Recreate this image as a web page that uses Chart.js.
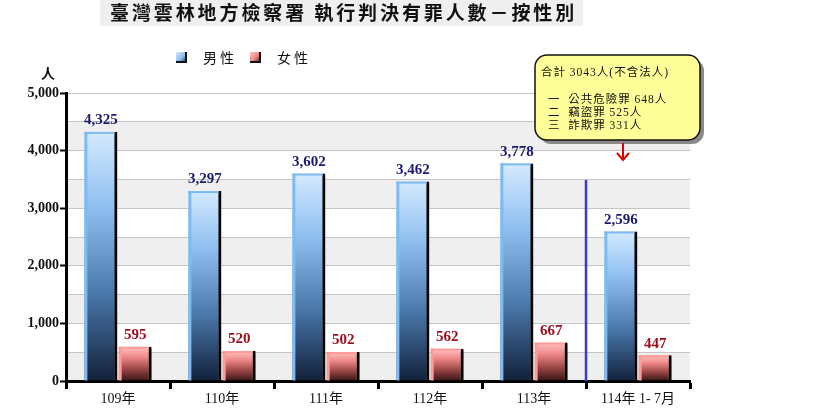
<!DOCTYPE html>
<html><head><meta charset="utf-8">
<script src="https://cdn.jsdelivr.net/npm/chart.js@4"></script>
<style>html,body{margin:0;padding:0;background:#fff;}#c{display:block;}</style>
</head><body>
<canvas id="c" width="822" height="411"></canvas>
<script>
const categories = ['109年', '110年', '111年', '112年', '113年', '114年 1- 7月'];
const maleValues = [4325, 3297, 3602, 3462, 3778, 2596];
const femaleValues = [595, 520, 502, 562, 667, 447];
const seriesNames = ['男性', '女性'];
const titleText = '臺灣雲林地方檢察署 執行判決有罪人數－按性別';
const unitText = '人';
const noteLines = ['合計 3043人(不含法人)', '', '一  公共危險罪 648人', '二  竊盜罪 525人', '三  詐欺罪 331人'];
const dividerTop = 3490;

const SERIF = '"Liberation Serif", "Noto Sans CJK TC", serif';
const CJK = '"Noto Sans CJK TC", "Liberation Serif", sans-serif';

const styles = [
  {stops: ['#d4eaff', '#8fbff0', '#4a78ab', '#12203a'], edge: '#7fbaf2', label: '#1a1a6e'},
  {stops: ['#ffc4c4', '#f08888', '#9a4646', '#351515'], edge: '#ff9a9a', label: '#9c1020'}
];

function barGradient(di) {
  return function(ctx) {
    const chart = ctx.chart;
    const area = chart.chartArea;
    if (!area) return styles[di].stops[1];
    const y = chart.scales.y;
    const v = ctx.raw || 0;
    const top = y.getPixelForValue(v);
    const bottom = y.getPixelForValue(0);
    const g = chart.ctx.createLinearGradient(0, top, 0, bottom);
    const s = styles[di].stops;
    g.addColorStop(0, s[0]);
    g.addColorStop(0.3, s[1]);
    g.addColorStop(0.65, s[2]);
    g.addColorStop(1, s[3]);
    return g;
  };
}

function spacing(c, v) { try { c.letterSpacing = v; } catch(e) {} }

const decor = {
  id: 'decor',
  beforeDraw(chart) {
    const c = chart.ctx, a = chart.chartArea, y = chart.scales.y;
    c.save();
    c.fillStyle = '#efefef';
    c.fillRect(100, 0, 483, 26);
    c.fillStyle = '#111';
    c.font = 'bold 19px ' + CJK;
    c.textBaseline = 'middle';
    c.textAlign = 'left';
    spacing(c, '2.9px');
    c.fillText(titleText, 110, 13);
    spacing(c, '0px');
    for (let v = 0; v < 5000; v += 1000) {
      const t = y.getPixelForValue(v + 500), b = y.getPixelForValue(v);
      c.fillStyle = '#efefef';
      c.fillRect(a.left, t, a.right - a.left, b - t);
    }
    c.restore();
  },
  beforeDatasetDraw(chart) {
    const c = chart.ctx;
    c.save();
    c.shadowColor = 'rgba(0,0,0,0.45)';
    c.shadowOffsetX = 3;
    c.shadowOffsetY = 1;
    c.shadowBlur = 3;
  },
  afterDatasetDraw(chart) {
    chart.ctx.restore();
  },
  afterDatasetsDraw(chart) {
    const c = chart.ctx, y = chart.scales.y, x = chart.scales.x;
    c.save();
    chart.data.datasets.forEach((ds, di) => {
      const meta = chart.getDatasetMeta(di);
      meta.data.forEach((el, i) => {
        const w = el.width;
        const left = el.x - w / 2;
        c.fillStyle = styles[di].edge;
        c.fillRect(left, el.y, 3, el.base - el.y);
        c.fillRect(left, el.y, w - 3, 2);
        c.fillStyle = styles[di].label;
        c.font = 'bold 15px ' + SERIF;
        c.textAlign = 'center';
        c.textBaseline = 'bottom';
        c.fillText(ds.data[i].toLocaleString('en-US'), el.x, el.y - 4);
      });
    });
    const xb = (x.getPixelForValue(4) + x.getPixelForValue(5)) / 2;
    c.strokeStyle = '#3a3acc';
    c.lineWidth = 2.5;
    c.beginPath();
    c.moveTo(xb, y.getPixelForValue(dividerTop));
    c.lineTo(xb, y.getPixelForValue(0));
    c.stroke();
    c.restore();
  },
  afterDraw(chart) {
    const c = chart.ctx;
    c.save();
    c.fillStyle = '#111';
    c.font = 'bold 14px ' + CJK;
    c.textAlign = 'center';
    c.textBaseline = 'middle';
    c.fillText(unitText, 48, 73);
    const lx = [176, 250];
    seriesNames.forEach((n, i) => {
      const bx = lx[i], by = 52;
      const g = c.createLinearGradient(bx, by, bx + 11, by + 11);
      g.addColorStop(0, styles[i].stops[0]);
      g.addColorStop(0.5, styles[i].stops[1]);
      g.addColorStop(1, styles[i].stops[3]);
      c.fillStyle = g;
      c.fillRect(bx, by, 11, 11);
      c.fillStyle = '#111';
      c.fillRect(bx + 9, by, 2, 11);
      c.fillRect(bx, by + 9, 11, 2);
      c.font = '14px ' + CJK;
      c.textAlign = 'left';
      spacing(c, '3px');
      c.fillText(n, bx + 27, by + 6);
      spacing(c, '0px');
    });
    const bx = 535, by = 55, bw = 165, bh = 85, r = 12;
    function rr(x0, y0) {
      c.beginPath();
      c.moveTo(x0 + r, y0);
      c.arcTo(x0 + bw, y0, x0 + bw, y0 + bh, r);
      c.arcTo(x0 + bw, y0 + bh, x0, y0 + bh, r);
      c.arcTo(x0, y0 + bh, x0, y0, r);
      c.arcTo(x0, y0, x0 + bw, y0, r);
      c.closePath();
    }
    c.fillStyle = '#8a8a8a';
    rr(bx + 4, by + 4); c.fill();
    c.fillStyle = '#ffff99';
    rr(bx, by); c.fill();
    c.strokeStyle = '#111';
    c.lineWidth = 1.5;
    c.stroke();
    c.fillStyle = '#111';
    c.textAlign = 'left';
    c.textBaseline = 'middle';
    c.font = '11.5px ' + SERIF;
    spacing(c, '1px');
    const ys = [73, 86, 100, 113, 126];
    noteLines.forEach((t, i) => {
      if (!t) return;
      c.fillText(t, i === 0 ? 541 : 548, ys[i]);
    });
    spacing(c, '0px');
    c.strokeStyle = '#e00000';
    c.lineWidth = 2;
    c.beginPath();
    c.moveTo(623, 143); c.lineTo(623, 160);
    c.moveTo(617, 153); c.lineTo(623, 160); c.lineTo(629, 153);
    c.stroke();
    c.restore();
  }
};

new Chart(document.getElementById('c'), {
  type: 'bar',
  data: {
    labels: categories,
    datasets: [
      {label: seriesNames[0], data: maleValues, backgroundColor: barGradient(0),
       borderColor: '#0a0a0a', borderWidth: {right: 3, top: 0, left: 0, bottom: 0}, borderSkipped: false},
      {label: seriesNames[1], data: femaleValues, backgroundColor: barGradient(1),
       borderColor: '#0a0a0a', borderWidth: {right: 3, top: 0, left: 0, bottom: 0}, borderSkipped: false}
    ]
  },
  options: {
    responsive: false,
    animation: false,
    devicePixelRatio: 1,
    layout: {padding: {left: 0, right: 132, top: 93, bottom: 0}},
    datasets: {bar: {categoryPercentage: 0.66, barPercentage: 0.96}},
    plugins: {legend: {display: false}, title: {display: false}, tooltip: {enabled: false}},
    scales: {
      x: {
        offset: true,
        grid: {offset: true, drawOnChartArea: false, tickLength: 8, tickColor: '#000', tickWidth: 3},
        border: {color: '#000', width: 3},
        ticks: {color: '#111', font: {family: SERIF, size: 14}, padding: 2, maxRotation: 0, autoSkip: false},
        afterFit(s) { s.height = 30; }
      },
      y: {
        min: 0, max: 5000,
        grid: {color: '#c4c4c4', lineWidth: 1, tickLength: 6,
               tickColor: (ctx) => (ctx.tick && ctx.tick.value % 1000 === 0) ? '#000' : 'rgba(0,0,0,0)', tickWidth: 2},
        border: {color: '#000', width: 3},
        ticks: {stepSize: 500, color: '#111', font: {family: SERIF, size: 14, weight: 'bold'}, padding: 1,
                callback: (v) => v % 1000 === 0 ? v.toLocaleString('en-US') : ''},
        afterFit(s) { s.width = 66; }
      }
    }
  },
  plugins: [decor]
});
</script>
</body></html>
